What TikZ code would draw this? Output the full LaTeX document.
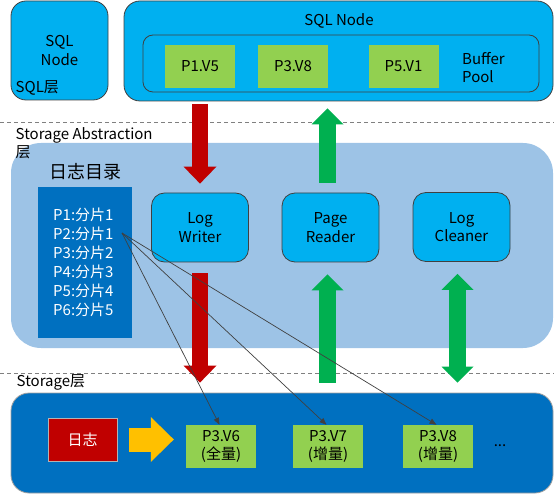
\documentclass[tikz,border=0pt]{standalone}
\usepackage{fontspec}
\setmainfont{Noto Sans CJK SC}
\usetikzlibrary{arrows.meta}
\definecolor{nodecyan}{HTML}{00B0F0}
\definecolor{pagegreen}{HTML}{92D050}
\definecolor{catblue}{HTML}{0070C0}
\definecolor{absblue}{HTML}{9DC3E6}
\definecolor{logred}{HTML}{C00000}
\definecolor{flowgreen}{HTML}{00B050}
\definecolor{flowyellow}{HTML}{FFC000}
\definecolor{edgegray}{HTML}{404040}
\tikzset{
  every node/.append style={font=\fontsize{15}{18.5}\selectfont},
  box/.style={rounded corners=13pt,draw=edgegray,line width=0.8pt,fill=nodecyan,align=center,inner sep=0pt},
  pagebox/.style={fill=pagegreen,minimum width=70pt,minimum height=43pt,align=center,inner sep=0pt},
  lbl/.style={inner sep=0pt,anchor=west},
  layerline/.style={draw=gray,dash pattern=on 4pt off 3pt,line width=0.8pt},
  fatred/.style={line width=16pt,draw=logred,-{Triangle[length=17pt,width=33pt,line width=0pt]}},
  fatgreen/.style={line width=17pt,draw=flowgreen,-{Triangle[length=16pt,width=32pt,line width=0pt]}},
  fatboth/.style={line width=17pt,draw=flowgreen,{Triangle[length=16pt,width=32pt,line width=0pt]}-{Triangle[length=16pt,width=32pt,line width=0pt]}},
  fatyellow/.style={line width=24pt,draw=flowyellow,-{Triangle[length=23pt,width=45pt,line width=0pt]}},
  thinarrow/.style={draw=edgegray,line width=0.7pt,-{Triangle[length=7pt,width=5.5pt]}}
}
\newcommand{\pagenode}{\node[pagebox]}
\newcommand{\worknode}{\node[box,minimum width=97pt,minimum height=69pt]}
\begin{document}
\begin{tikzpicture}[x=1pt,y=-1pt]
  \useasboundingbox (0,0) rectangle (554,494);
  %%%% SQL layer
  \node[box,minimum width=97pt,minimum height=99pt,rounded corners=15pt] (sqlleft) at (59.5,50.5) {SQL\\Node};
  \node[lbl] (sqllayer) at (15.5,88) {SQL层};
  \node[box,minimum width=429pt,minimum height=100pt,rounded corners=16pt] (sqlnode) at (338.5,51) {};
  \node (sqltitle) at (339,21) {SQL Node};
  \node[draw=edgegray,line width=0.8pt,rounded corners=10pt,minimum width=396pt,minimum height=57pt] (pool) at (341,63.5) {};
  \pagenode (p1v5) at (200,66.5) {P1.V5};
  \pagenode (p3v8) at (293,66.5) {P3.V8};
  \pagenode (p5v1) at (403.5,66.5) {P5.V1};
  \node[lbl,align=left] (bufpool) at (462,67.5) {Buffer\\Pool};
  \draw[layerline] (0,122) -- (554,122);
  %%%% storage abstraction layer
  \node[fill=absblue,rounded corners=30pt,minimum width=542pt,minimum height=205pt] (absregion) at (282,245.5) {};
  \node[lbl,align=left] (abslayer) at (15.5,143) {Storage Abstraction\\层};
  \node[font=\fontsize{18}{22}\selectfont] (cattitle) at (85,172) {日志目录};
  \node[fill=catblue,minimum width=94pt,minimum height=151pt] (catalog) at (85,262.5) {};
  \foreach \p/\s [count=\i] in {1/1,2/1,3/2,4/3,5/4,6/5}
    \node[lbl,text=white] (c\i) at (53,{196+19*\i}) {P\p:分片\s};
  \worknode (writer) at (200,227.5) {Log\\Writer};
  \worknode (reader) at (330.5,227.5) {Page\\Reader};
  \worknode (cleaner) at (461.5,227) {Log\\Cleaner};
  \draw[layerline] (0,373) -- (554,373);
  %%%% storage layer
  \node[lbl] (storlayer) at (16.5,382) {Storage层};
  \node[fill=catblue,draw=edgegray!50,line width=0.8pt,rounded corners=18pt,minimum width=542pt,minimum height=100pt] (storregion) at (282,443) {};
  \node[fill=logred,draw=edgegray!40,line width=0.8pt,minimum width=69pt,minimum height=43pt,text=white] (logbox) at (82.5,439.5) {日志};
  \pagenode (v6) at (221,446.5) {P3.V6\\(全量)};
  \pagenode (v7) at (328,446.5) {P3.V7\\(增量)};
  \pagenode (v8) at (438,446.5) {P3.V8\\(增量)};
  \node (more) at (500,446) {...};
  %%%% fat arrows
  \draw[fatred] ([yshift=-3pt]sqlnode.south -| writer.north) -- ([yshift=9pt]writer.north);
  \draw[fatred] ([yshift=-11pt]writer.south) -- ([yshift=10pt]storregion.north -| writer.south);
  \draw[fatgreen] ([xshift=-3pt,yshift=10pt]reader.north) -- ([xshift=-3pt,yshift=-7pt]sqlnode.south -| reader.north);
  \draw[fatgreen] ([xshift=-3pt,yshift=10pt]storregion.north -| reader.south) -- ([xshift=-3pt,yshift=-12pt]reader.south);
  \draw[fatboth] ([xshift=-4pt,yshift=-12pt]cleaner.south) -- ([xshift=-4pt,yshift=10pt]storregion.north -| cleaner.south);
  \draw[fatyellow] ([xshift=12pt]logbox.east) -- ([xshift=-12pt]v6.west |- logbox.east);
  %%%% catalog links
  \coordinate (p2) at (122,233);
  \foreach \v in {v6,v7,v8}
    \draw[thinarrow] (p2) -- ([xshift=-1.5pt]\v.north);
\end{tikzpicture}
\end{document}
